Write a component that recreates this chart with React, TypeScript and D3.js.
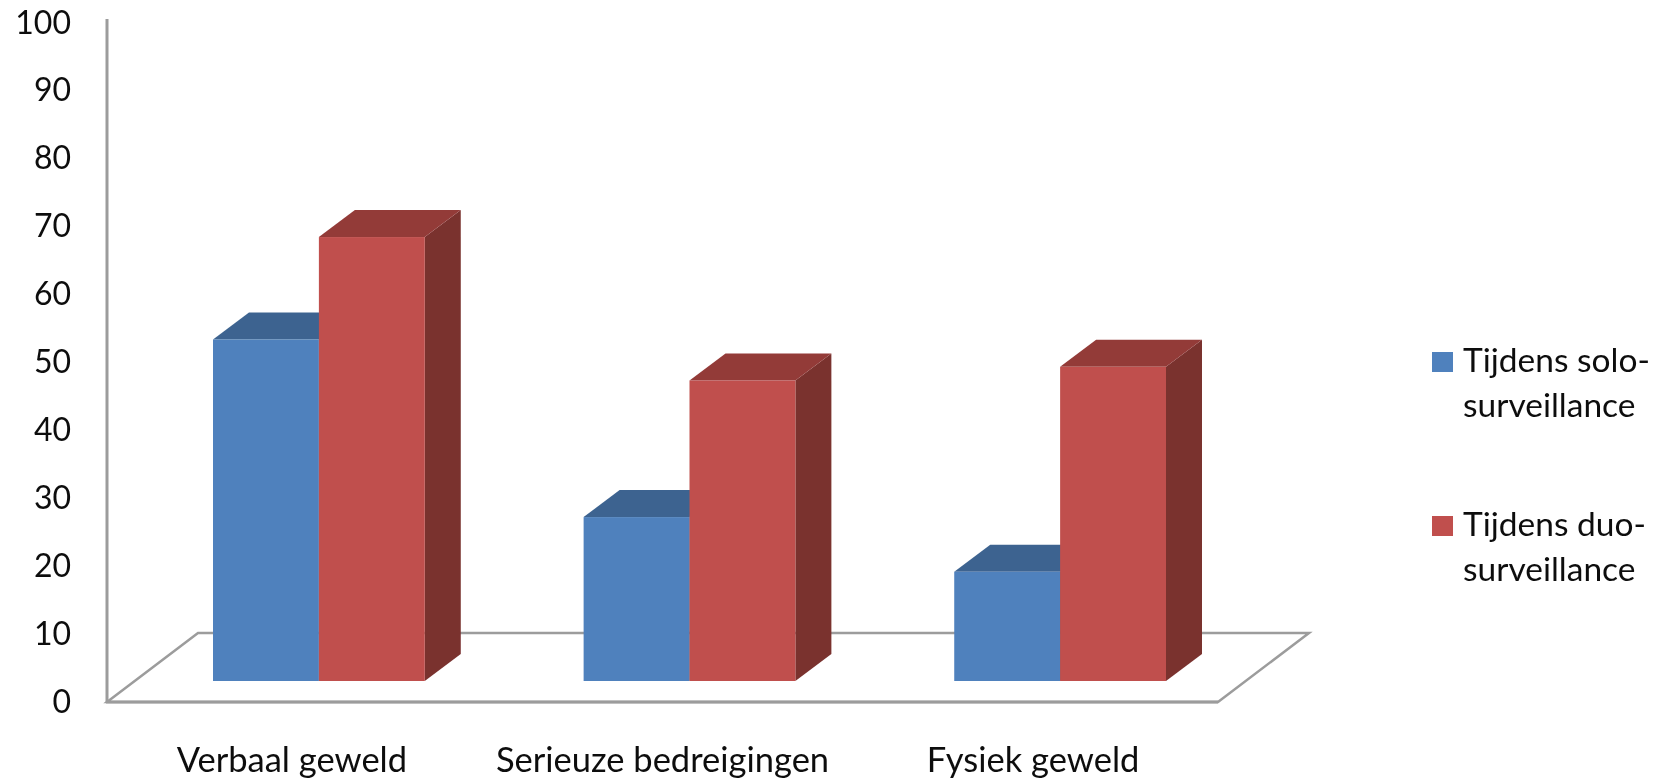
import React from "react";
import * as d3 from "d3";

const categories = ["Verbaal geweld", "Serieuze bedreigingen", "Fysiek geweld"];
const soloValues = [50, 24, 16];
const duoValues = [65, 44, 46];
const yTicks = [0, 10, 20, 30, 40, 50, 60, 70, 80, 90, 100];
const seriesNames = ["Tijdens solo-", "Tijdens duo-"];
const FONT = "Lato, Carlito, sans-serif";

const series = [
  { key: "solo", values: soloValues, front: "#4F81BD", top: "#3E6490", side: "#345478", label: [seriesNames[0], "surveillance"] },
  { key: "duo", values: duoValues, front: "#C0504D", top: "#933B39", side: "#7A302E", label: [seriesNames[1], "surveillance"] },
];

const W = 1665, H = 782;
const y = d3.scaleLinear().domain([0, 100]).range([702, 19]);
const tickY = d3.scaleLinear().domain([0, 100]).range([701, 22]);
const x0 = d3.scaleBand().domain(categories).range([213, 1166]).paddingInner(0.4286).paddingOuter(0);
const x1 = d3.scaleBand().domain(series.map((s) => s.key)).range([0, x0.bandwidth()]);
const DX = 36, DY = 27, BASE_LIFT = 21;
const poly = d3.line();

export default function App() {
  const baseY = y(0) - BASE_LIFT;
  return (
    <svg width={W} height={H} viewBox={`0 0 ${W} ${H}`} style={{ position: "absolute", left: 0, top: 0, background: "#fff" }}>
      <defs>
        <filter id="soft" x="-2%" y="-2%" width="104%" height="104%">
          <feGaussianBlur stdDeviation="0.6" />
        </filter>
      </defs>
      <g filter="url(#soft)">
        <path d="M107 702 L198 633 L1309 633 L1218 702 Z" fill="#fff" stroke="#9c9c9c" strokeWidth={2.5} strokeLinejoin="miter" />
        <line x1={107} x2={107} y1={y(100)} y2={y(0) + 1} stroke="#9c9c9c" strokeWidth={3} />
        <line x1={106} x2={1218} y1={y(0)} y2={y(0)} stroke="#9c9c9c" strokeWidth={3} />
        {series.map((s) =>
          categories.map((c, i) => {
            const l = x0(c)! + x1(s.key)!;
            const r = l + x1.bandwidth();
            const t = y(s.values[i]) - BASE_LIFT;
            return (
              <g key={s.key + c}>
                <path d={poly([[r, t], [r + DX, t - DY], [r + DX, baseY - DY], [r, baseY]])! + "Z"} fill={s.side} />
                <path d={poly([[l, t], [l + DX, t - DY], [r + DX, t - DY], [r, t]])! + "Z"} fill={s.top} />
                <rect x={l} y={t} width={r - l} height={baseY - t} fill={s.front} />
              </g>
            );
          })
        )}
        {yTicks.map((t) => (
          <text key={t} x={71} y={tickY(t)} dy="0.36em" textAnchor="end" fontFamily={FONT} fontSize={32} fill="#111">{t}</text>
        ))}
        {categories.map((c) => (
          <text key={c} x={x0(c)! + x0.bandwidth() / 2 - 27} y={772} textAnchor="middle" fontFamily={FONT} fontSize={34.5} fill="#111">{c}</text>
        ))}
        {series.map((s, i) => (
          <g key={s.key}>
            <rect x={1432} y={352 + i * 164} width={21} height={20} fill={s.front} />
            <text x={1463} y={372 + i * 163.5} fontFamily={FONT} fontSize={33.5} fill="#111">{s.label[0]}</text>
            <text x={1463} y={417 + i * 164} fontFamily={FONT} fontSize={33.5} fill="#111">{s.label[1]}</text>
          </g>
        ))}
      </g>
    </svg>
  );
}
